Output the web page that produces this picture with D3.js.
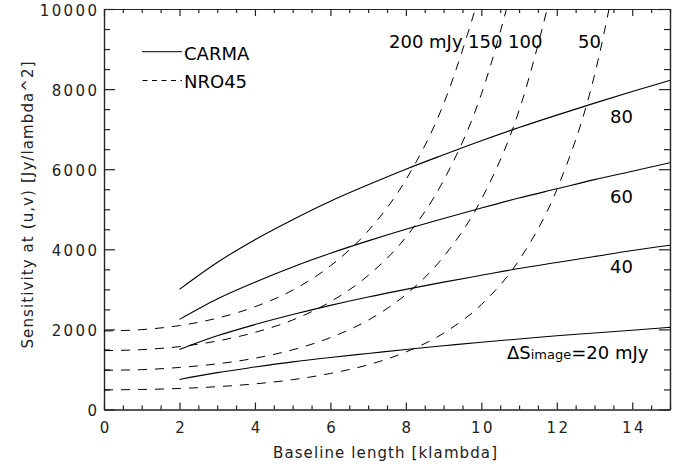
<!DOCTYPE html>
<html>
<head>
<meta charset="utf-8">
<title>Sensitivity vs baseline</title>
<script src="https://d3js.org/d3.v7.min.js"></script>
<style>
  body { margin: 0; background: #fff; }
  .tick text { font-family: "DejaVu Sans", sans-serif; font-size: 15px; letter-spacing: 2.4px; fill: #222; }
  .note { font-family: "DejaVu Sans", sans-serif; font-size: 18px; fill: #000; }
</style>
</head>
<body>
<svg width="681" height="466"></svg>
<script>
// baseline lengths [klambda]
const nroDist = [0, 1, 2, 3, 4, 5, 6, 7, 8, 9, 10, 11, 12, 13, 14];
const carmaDist = [2, 3, 4, 5, 6, 7, 8, 9, 10, 11, 12, 13, 14, 15];

// CARMA (solid), per image noise level
const carma20 = [750, 920, 1060, 1190, 1300, 1400, 1500, 1590, 1680, 1760, 1840, 1910, 1980, 2050];
const carma40 = [1500, 1840, 2120, 2370, 2600, 2810, 3000, 3180, 3350, 3520, 3670, 3820, 3970, 4100];
const carma60 = [2250, 2760, 3180, 3560, 3900, 4210, 4500, 4770, 5030, 5280, 5510, 5740, 5950, 6160];
const carma80 = [3000, 3670, 4240, 4740, 5200, 5610, 6000, 6360, 6710, 7040, 7350, 7650, 7940, 8220];

// NRO45 (dashed)
const nro50 = [490, 500, 525, 570, 640, 745, 900, 1115, 1435, 1905, 2620, 3730, 5490, 8350, 13130];
const nro100 = [980, 995, 1050, 1140, 1280, 1490, 1795, 2230, 2870, 3815, 5245, 7465, 10980];
const nro150 = [1470, 1495, 1570, 1710, 1925, 2235, 2690, 3345, 4300, 5720, 7870, 11195];
const nro200 = [1960, 1995, 2095, 2280, 2565, 2980, 3585, 4460, 5735, 7630, 10495];

const xMajor = [0, 2, 4, 6, 8, 10, 12, 14];
const yMajor = [0, 2000, 4000, 6000, 8000, 10000];

const svg = d3.select("svg");
const x = d3.scaleLinear().domain([0, 15]).range([104, 670]);
const y = d3.scaleLinear().domain([0, 10000]).range([409.5, 9]);

svg.append("clipPath").attr("id", "plotclip")
  .append("rect").attr("x", 104).attr("y", 9).attr("width", 566).attr("height", 400.5);

const xMinor = d3.range(0, 15.01, 0.5).filter(v => v % 2 != 0);
const yMinor = d3.range(0, 10001, 500).filter(v => v % 2000 != 0);

function axisStyle(g) {
  g.selectAll("path, line").attr("stroke", "#222").attr("stroke-width", 1.2);
}

// bottom
svg.append("g").attr("transform", "translate(0,409.5)")
  .call(d3.axisBottom(x).tickValues(xMajor).tickSize(-7).tickSizeOuter(0).tickPadding(13).tickFormat(d3.format("d")))
  .call(axisStyle)
  .selectAll("text").attr("dx", "1.2px");
svg.append("g").attr("transform", "translate(0,409.5)")
  .call(d3.axisBottom(x).tickValues(xMinor).tickSize(-4).tickSizeOuter(0).tickFormat(""))
  .call(axisStyle);
// top
svg.append("g").attr("transform", "translate(0,9)")
  .call(d3.axisTop(x).tickValues(xMajor).tickSize(-7).tickSizeOuter(0).tickFormat(""))
  .call(axisStyle);
svg.append("g").attr("transform", "translate(0,9)")
  .call(d3.axisTop(x).tickValues(xMinor).tickSize(-4).tickSizeOuter(0).tickFormat(""))
  .call(axisStyle);
// left
svg.append("g").attr("transform", "translate(104,0)")
  .call(d3.axisLeft(y).tickValues(yMajor).tickSize(-11).tickSizeOuter(0).tickPadding(4.6).tickFormat(d3.format("d")))
  .call(axisStyle)
  .selectAll("text").attr("dy", "0.4em");
svg.append("g").attr("transform", "translate(104,0)")
  .call(d3.axisLeft(y).tickValues(yMinor).tickSize(-6).tickSizeOuter(0).tickFormat(""))
  .call(axisStyle);
// right
svg.append("g").attr("transform", "translate(670,0)")
  .call(d3.axisRight(y).tickValues(yMajor).tickSize(-11).tickSizeOuter(0).tickFormat(""))
  .call(axisStyle);
svg.append("g").attr("transform", "translate(670,0)")
  .call(d3.axisRight(y).tickValues(yMinor).tickSize(-6).tickSizeOuter(0).tickFormat(""))
  .call(axisStyle);

// axis titles
svg.append("text")
  .attr("x", 385).attr("y", 458)
  .attr("text-anchor", "middle")
  .attr("textLength", 224).attr("lengthAdjust", "spacing")
  .style("font-family", "DejaVu Sans, sans-serif").style("font-size", "15px").style("fill", "#222")
  .text("Baseline length [klambda]");

svg.append("text")
  .attr("transform", "translate(33,205) rotate(-90)")
  .attr("text-anchor", "middle")
  .attr("textLength", 287).attr("lengthAdjust", "spacing")
  .style("font-family", "DejaVu Sans, sans-serif").style("font-size", "15px").style("fill", "#222")
  .text("Sensitivity at (u,v) [Jy/lambda^2]");

// curves
const line = d3.line().curve(d3.curveMonotoneX);
const plot = svg.append("g").attr("clip-path", "url(#plotclip)");

[carma20, carma40, carma60, carma80].forEach(function (s) {
  plot.append("path")
    .attr("d", line(s.map((v, i) => [x(carmaDist[i]), y(v)])))
    .attr("fill", "none").attr("stroke", "#000").attr("stroke-width", 1.1);
});

[nro50, nro100, nro150, nro200].forEach(function (s) {
  plot.append("path")
    .attr("d", line(s.map((v, i) => [x(nroDist[i]), y(v)])))
    .attr("fill", "none").attr("stroke", "#000").attr("stroke-width", 1)
    .attr("stroke-dasharray", "9,8");
});

// legend
svg.append("line").attr("x1", 142).attr("x2", 182).attr("y1", 51.7).attr("y2", 51.7)
  .attr("stroke", "#000").attr("stroke-width", 1);
svg.append("line").attr("x1", 142.5).attr("x2", 182).attr("y1", 80.5).attr("y2", 80.5)
  .attr("stroke", "#000").attr("stroke-width", 1).attr("stroke-dasharray", "5,4.5");
svg.append("text").attr("class", "note").attr("x", 184).attr("y", 60).text("CARMA");
svg.append("text").attr("class", "note").attr("x", 184).attr("y", 88).text("NRO45");

// curve labels
svg.append("text").attr("class", "note").attr("x", 389).attr("y", 48).text("200 mJy");
svg.append("text").attr("class", "note").attr("x", 468).attr("y", 48).text("150");
svg.append("text").attr("class", "note").attr("x", 508).attr("y", 48).text("100");
svg.append("text").attr("class", "note").attr("x", 578).attr("y", 48).text("50");
svg.append("text").attr("class", "note").attr("x", 610).attr("y", 123).text("80");
svg.append("text").attr("class", "note").attr("x", 610).attr("y", 203).text("60");
svg.append("text").attr("class", "note").attr("x", 610).attr("y", 273).text("40");

const ds = svg.append("text").attr("class", "note").attr("x", 507).attr("y", 359);
ds.append("tspan").text("\u0394S");
ds.append("tspan").style("font-size", "13px").text("image");
ds.append("tspan").text("=20 mJy");
</script>
</body>
</html>
